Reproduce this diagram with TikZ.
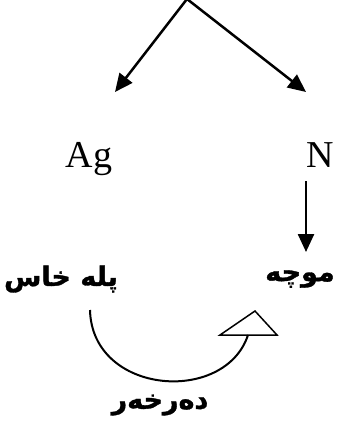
\documentclass[tikz,border=0pt]{standalone}
\usepackage{fontspec}
\setmainfont{Liberation Serif}
\newfontfamily\kurdfont[Script=Arabic,FakeBold=1.2]{DejaVu Sans}
\TeXXeTstate=1
\usetikzlibrary{arrows.meta}

\begin{document}
\begin{tikzpicture}[x=1pt,y=-1pt,
  lat/.style={font=\fontsize{38}{42}\selectfont,inner sep=0pt,anchor=base},
  kurd/.style={font=\kurdfont\bfseries\fontsize{27}{30}\selectfont,inner sep=0pt},
  arr/.style={-{Triangle[length=18pt,width=16pt]},line width=2.5pt},
  turn/.style={line width=2pt},
  head/.style={line width=1.5pt,line join=miter}]
\useasboundingbox (0,0) rectangle (344,428);
\coordinate (top) at (187,-1);
\coordinate (agtip) at (115,92);
\coordinate (ntip) at (306,92);
\node[lat] (ag) at (89,167) {Ag};
\node[lat] (n) at (320,167) {N};
\coordinate (nfoot) at (306,181);
\coordinate (mtip) at (306,252);
\node[kurd] (moche) at (300,279) {\beginR موچە\endR};
\node[kurd] (pele) at (61,279) {\beginR پلە خاس\endR};
\node[kurd] (derkher) at (160,405) {\beginR دەرخەر\endR};
\coordinate (turnfoot) at (90,310);
\coordinate (turnend) at (248,335);
\draw[arr] (top) -- (agtip);
\draw[arr] (top) -- (ntip);
\draw[arr] (nfoot) -- (mtip);
\draw[turn] (turnfoot) .. controls (92,395) and (225,405) .. (turnend);
\draw[head] (220,335) -- (277,335) -- (255,311) -- cycle;
\end{tikzpicture}
\end{document}
